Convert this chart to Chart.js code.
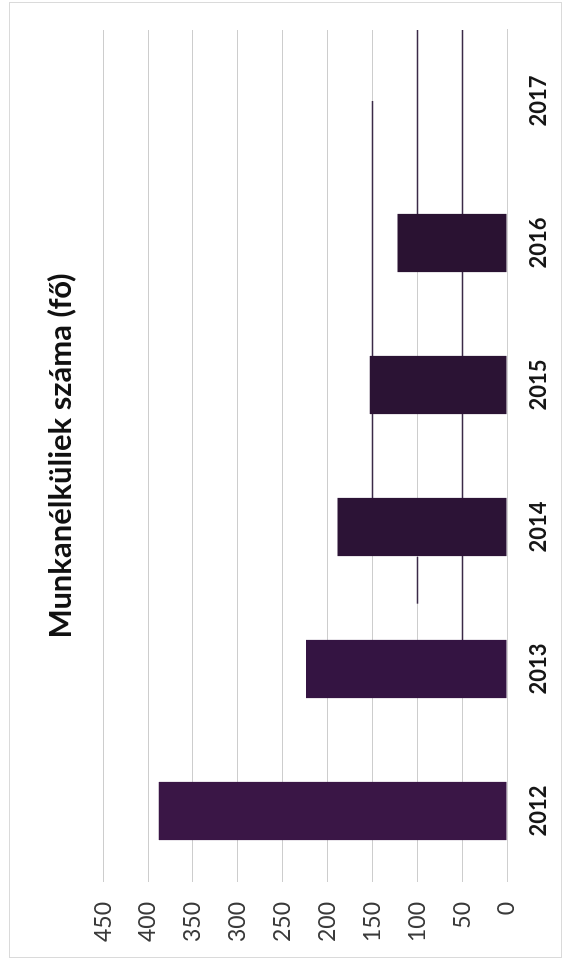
<!DOCTYPE html>
<html>
<head>
<meta charset="utf-8">
<title>Munkanélküliek száma (fő)</title>
<script src="https://cdn.jsdelivr.net/npm/chart.js@4/dist/chart.umd.min.js"></script>
<style>
  html, body { margin: 0; padding: 0; background: #fff; overflow: hidden; }
  /* the chart is laid out landscape and turned a quarter turn counter-clockwise */
  #stage {
    position: absolute; left: 0; top: 0;
    width: 968px; height: 565px;
    transform-origin: 0 0;
    transform: translate(0, 968px) rotate(-90deg);
    background: #fff;
  }
  #stage canvas { position: absolute; left: 0; top: 0; }
  #frame {
    position: absolute; left: 10px; top: 9px;
    width: 954px; height: 551px;
    border: 1px solid #dadada;
    pointer-events: none;
  }
</style>
</head>
<body>
<div id="stage">
  <canvas id="chart" width="968" height="565"></canvas>
  <div id="frame"></div>
</div>
<script>
// Years on the category axis
const categories = ['2012', '2013', '2014', '2015', '2016', '2017'];
// Number of unemployed people per year (2017 has no value)
const unemployed = [388, 224, 189, 153, 122, null];
// Value axis ticks
const valueTicks = [0, 50, 100, 150, 200, 250, 300, 350, 400, 450];

const titleText = 'Munkanélküliek száma (fő)';
const FONT = 'Lato, "Open Sans", "Noto Sans", sans-serif';

// Gridline stretches printed darker: value line, from / to category position
const darkGridValues = [50, 100, 100, 150];
const darkGridFrom   = [1.2, 4.2, 1.46, 2.2];
const darkGridTo     = [5.5, 5.5, 1.79, 5.0];

const darkGridPlugin = {
  id: 'darkGrid',
  beforeDatasetsDraw(chart) {
    const { ctx, scales: { x, y } } = chart;
    ctx.save();
    ctx.strokeStyle = '#3b2a47';
    ctx.lineWidth = 1.6;
    darkGridValues.forEach((v, i) => {
      const py = Math.round(y.getPixelForValue(v)) + 0.5;
      ctx.beginPath();
      ctx.moveTo(x.getPixelForValue(darkGridFrom[i]), py);
      ctx.lineTo(x.getPixelForValue(darkGridTo[i]), py);
      ctx.stroke();
    });
    ctx.restore();
  }
};

const ctx = document.getElementById('chart').getContext('2d');
new Chart(ctx, {
  type: 'bar',
  data: {
    labels: categories,
    datasets: [{
      label: titleText,
      data: unemployed,
      backgroundColor: ['#3a1646', '#341442', '#2c1336', '#2b1334', '#2a1232', '#2a1232'],
      borderWidth: 0,
      barPercentage: 0.41,
      categoryPercentage: 1.0
    }]
  },
  options: {
    responsive: false,
    animation: false,
    devicePixelRatio: 1,
    layout: { padding: { left: 0, right: 30, top: 0, bottom: 0 } },
    plugins: {
      legend: { display: false },
      tooltip: { enabled: false },
      title: {
        display: true,
        text: titleText,
        fullSize: false,
        color: '#111',
        font: { family: FONT, size: 31, weight: 'bold' },
        padding: { top: 42, bottom: 24 }
      }
    },
    scales: {
      x: {
        grid: { display: false, drawTicks: false },
        border: { display: true, color: '#cfcfcf', width: 1 },
        ticks: {
          color: '#161616',
          font: { family: FONT, size: 22, weight: 'bold' },
          padding: 19,
          maxRotation: 0,
          autoSkip: false
        },
        afterFit: s => { s.height = 58; }
      },
      y: {
        min: 0,
        max: 450,
        afterBuildTicks: s => { s.ticks = valueTicks.map(v => ({ value: v })); },
        grid: { color: '#cdcdcd', lineWidth: 1, drawTicks: false },
        border: { display: false },
        ticks: {
          color: '#3a3a3a',
          font: { family: FONT, size: 23 },
          padding: 20
        },
        afterFit: s => { s.width = 86; }
      }
    }
  },
  plugins: [darkGridPlugin]
});
</script>
</body>
</html>
